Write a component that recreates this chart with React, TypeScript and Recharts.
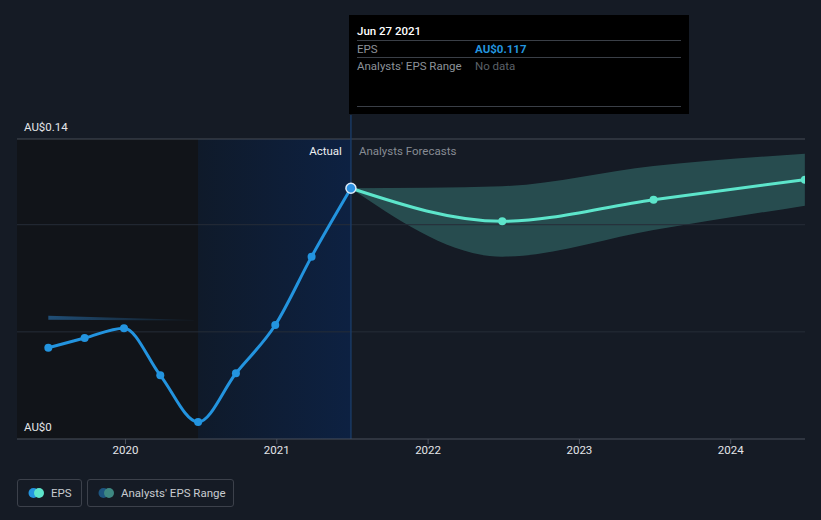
import React from "react";
import {
  ComposedChart,
  Line,
  Area,
  XAxis,
  YAxis,
  ReferenceLine,
  ReferenceArea,
} from "recharts";

// ---- data ----
const actualDates = [2019.49, 2019.73, 2019.99, 2020.23, 2020.48, 2020.73, 2020.99, 2021.23, 2021.49];
const actualEps = [0.0426, 0.0471, 0.0517, 0.0297, 0.0079, 0.0307, 0.0532, 0.0851, 0.117];

const forecastDates = [2021.49, 2022.49, 2023.49, 2024.49];
const forecastEps = [0.117, 0.1016, 0.1117, 0.121];
const forecastLow = [0.117, 0.0851, 0.0975, 0.1089];
const forecastHigh = [0.117, 0.118, 0.1274, 0.1331];

const pastRangeDates = [2019.49, 2020.45];
const pastRangeLow = [0.0557, 0.0553];
const pastRangeHigh = [0.0575, 0.0555];

const yearTicks = [2020, 2021, 2022, 2023, 2024];
const xDomain = [2019.283, 2024.491];
const yDomain = [0, 0.14];
const gridValues = [0.05, 0.1];
const tooltipDate = "Jun 27 2021";
const currency = "AU$";

// ---- derived tables ----
const actualData = actualDates.map((t, i) => ({ t, eps: actualEps[i] }));
const forecastData = forecastDates.map((t, i) => ({ t, eps: forecastEps[i] }));
const forecastRange = forecastDates.map((t, i) => ({ t, range: [forecastLow[i], forecastHigh[i]] }));
const pastRange = pastRangeDates.map((t, i) => ({ t, range: [pastRangeLow[i], pastRangeHigh[i]] }));
const lastActual = actualEps[actualEps.length - 1];
const lastActualDate = actualDates[actualDates.length - 1];

const FONT = "Roboto, 'Noto Sans', sans-serif";
const FS = 11.5;

const ActualDot = (props: any) => {
  const { cx, cy, index } = props;
  if (cx == null || cy == null) return null;
  if (index === actualData.length - 1) {
    return <circle cx={cx} cy={cy} r={5} fill="#2b8fe0" stroke="#dbe9f7" strokeWidth={1.5} />;
  }
  return <circle cx={cx} cy={cy} r={4} fill="#2394df" />;
};

const ForecastDot = (props: any) => {
  const { cx, cy, index } = props;
  if (cx == null || cy == null || index === 0) return null;
  return <circle cx={cx} cy={cy} r={4} fill="#5de5cb" />;
};

export default function App() {
  return (
    <div
      style={{
        position: "absolute",
        left: 0,
        top: 0,
        width: 821,
        height: 520,
        background: "#151b25",
        overflow: "hidden",
        fontFamily: FONT,
      }}
    >
      <ComposedChart
        width={821}
        height={520}
        margin={{ top: 139, right: 16, left: 17, bottom: 51 }}
      >
        <defs>
          <linearGradient id="actualGrad" x1="0" y1="0" x2="1" y2="0">
            <stop offset="0%" stopColor="#0f1a2a" />
            <stop offset="100%" stopColor="#0d2142" />
          </linearGradient>
          <linearGradient id="pastRangeGrad" x1="0" y1="0" x2="1" y2="0">
            <stop offset="0%" stopColor="#21527c" stopOpacity={0.95} />
            <stop offset="100%" stopColor="#1f4d75" stopOpacity={0.1} />
          </linearGradient>
        </defs>
        <XAxis
          type="number"
          dataKey="t"
          domain={xDomain}
          ticks={yearTicks}
          allowDataOverflow
          height={30}
          stroke="#4b515c"
          tickSize={5}
          tick={{ fill: "#e3e5e8", fontSize: FS, fontFamily: FONT }}
          tickFormatter={(v: number) => String(Math.round(v))}
        />
        <YAxis type="number" hide domain={yDomain} allowDataOverflow />

        <ReferenceArea
          x1={xDomain[0]}
          x2={2020.48}
          y1={yDomain[0]}
          y2={yDomain[1]}
          fill="#111419"
          fillOpacity={1}
          stroke="none"
          ifOverflow="visible"
        />
        <ReferenceArea
          x1={2020.48}
          x2={lastActualDate}
          y1={yDomain[0]}
          y2={yDomain[1]}
          fill="url(#actualGrad)"
          fillOpacity={1}
          stroke="none"
          ifOverflow="visible"
        />

        {gridValues.map((g) => (
          <ReferenceLine key={g} y={g} stroke="#262d38" strokeWidth={1} />
        ))}
        <ReferenceLine
          y={yDomain[1]}
          stroke="#474c56"
          strokeWidth={1}
          label={(p: any) => (
            <text x={p.viewBox.x + 7} y={p.viewBox.y - 8} fill="#e3e5e8" fontSize={FS} fontFamily={FONT}>
              {`${currency}0.14`}
            </text>
          )}
        />
        <ReferenceLine
          y={0}
          stroke="none"
          label={(p: any) => (
            <text x={p.viewBox.x + 7} y={p.viewBox.y - 8} fill="#e3e5e8" fontSize={FS} fontFamily={FONT}>
              {`${currency}0`}
            </text>
          )}
        />
        <ReferenceLine
          segment={[
            { x: lastActualDate, y: 0 },
            { x: lastActualDate, y: 0.1512 },
          ]}
          stroke="#1a3a64"
          strokeWidth={1.5}
          ifOverflow="visible"
        />
        <ReferenceLine
          x={lastActualDate}
          stroke="none"
          label={(p: any) => (
            <g>
              <text x={p.viewBox.x - 9} y={p.viewBox.y + 16} textAnchor="end" fill="#eef0f2" fontSize={FS} fontFamily={FONT}>
                Actual
              </text>
              <text x={p.viewBox.x + 8} y={p.viewBox.y + 16} textAnchor="start" fill="#878c94" fontSize={FS} fontFamily={FONT}>
                Analysts Forecasts
              </text>
            </g>
          )}
        />

        <Area
          data={pastRange}
          dataKey="range"
          type="linear"
          stroke="none"
          fill="url(#pastRangeGrad)"
          fillOpacity={1}
          isAnimationActive={false}
          activeDot={false}
        />
        <Area
          data={forecastRange}
          dataKey="range"
          type="monotone"
          stroke="none"
          fill="#2e5e5e"
          fillOpacity={0.75}
          isAnimationActive={false}
          activeDot={false}
        />
        <Line
          data={forecastData}
          dataKey="eps"
          type="monotone"
          stroke="#5de5cb"
          strokeWidth={3}
          dot={<ForecastDot />}
          activeDot={false}
          isAnimationActive={false}
        />
        <Line
          data={actualData}
          dataKey="eps"
          type="monotone"
          stroke="#2394df"
          strokeWidth={3}
          dot={<ActualDot />}
          activeDot={false}
          isAnimationActive={false}
        />
      </ComposedChart>

      {/* tooltip box */}
      <div
        style={{
          position: "absolute",
          left: 349,
          top: 15,
          width: 340,
          height: 99,
          background: "#000000",
          fontSize: FS,
          fontFamily: FONT,
          boxSizing: "border-box",
          padding: "0 8px",
        }}
      >
        <div style={{ color: "#ffffff", fontWeight: 500, height: 25, lineHeight: "32px", borderBottom: "1px solid #3a3f47" }}>
          {tooltipDate}
        </div>
        <div style={{ display: "flex", height: 16, lineHeight: "16px", borderBottom: "1px solid #3a3f47" }}>
          <span style={{ color: "#8d9299", width: 118 }}>EPS</span>
          <span style={{ color: "#2394df", fontWeight: 700 }}>{`${currency}${lastActual.toFixed(3)}`}</span>
        </div>
        <div style={{ display: "flex", height: 16, lineHeight: "16px" }}>
          <span style={{ color: "#8d9299", width: 118 }}>Analysts' EPS Range</span>
          <span style={{ color: "#5b6068" }}>No data</span>
        </div>
        <div style={{ position: "absolute", left: 8, right: 8, top: 91, borderBottom: "1px solid #3a3f47" }} />
      </div>

      {/* legend */}
      <div style={{ position: "absolute", left: 17, top: 479, display: "flex", gap: 5, fontFamily: FONT, fontSize: FS }}>
        <div
          style={{
            height: 26,
            width: 63,
            border: "1px solid #3c414b",
            borderRadius: 3,
            display: "flex",
            alignItems: "center",
            boxSizing: "content-box",
          }}
        >
          <svg width={30} height={12} style={{ marginLeft: 10 }}>
            <circle cx={5.5} cy={6} r={5} fill="#2394df" />
            <circle cx={11} cy={6} r={5} fill="#5de5cb" />
          </svg>
          <span style={{ color: "#c8cbd0", marginLeft: -7 }}>EPS</span>
        </div>
        <div
          style={{
            height: 26,
            width: 145,
            border: "1px solid #3c414b",
            borderRadius: 3,
            display: "flex",
            alignItems: "center",
            boxSizing: "content-box",
          }}
        >
          <svg width={30} height={12} style={{ marginLeft: 10 }}>
            <circle cx={5.5} cy={6} r={5} fill="#1d5580" />
            <circle cx={11} cy={6} r={5} fill="#3e8882" />
          </svg>
          <span style={{ color: "#c8cbd0", marginLeft: -7 }}>Analysts' EPS Range</span>
        </div>
      </div>
    </div>
  );
}
